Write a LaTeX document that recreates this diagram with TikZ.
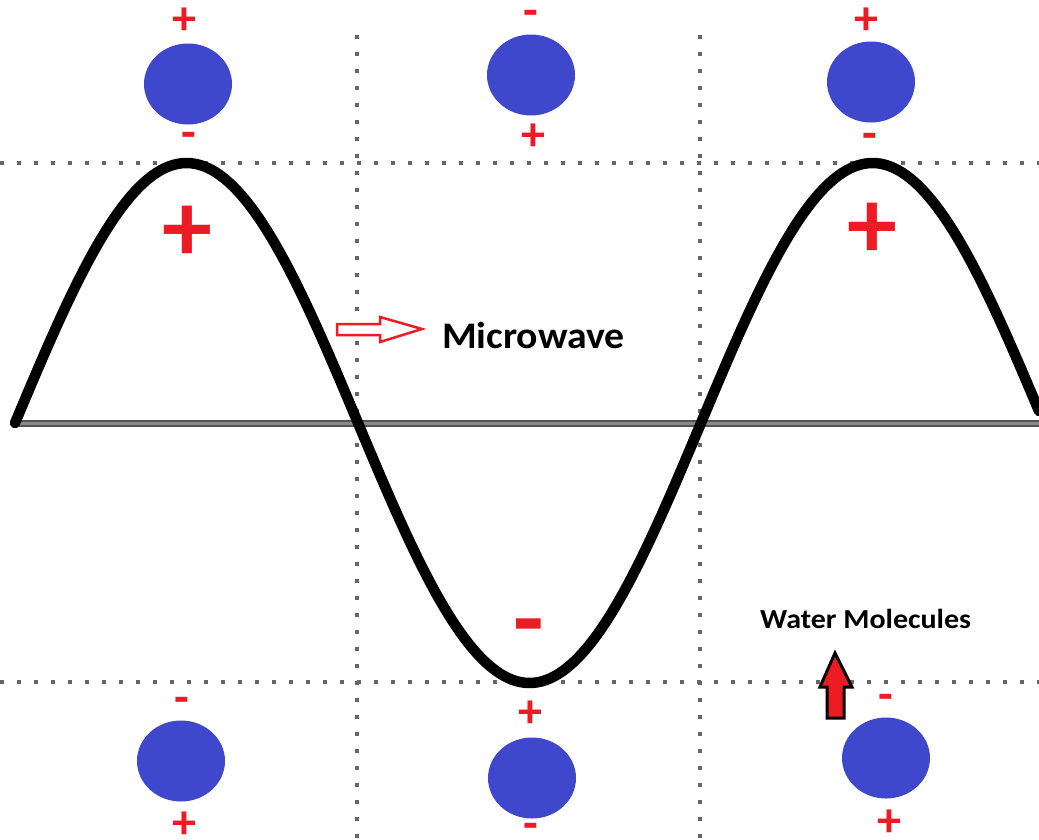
\documentclass[tikz,border=0pt]{standalone}
\usepackage{fontspec}
\setmainfont{Carlito}
\newfontfamily\mwfont[FakeStretch=1.06]{Carlito}
\newfontfamily\wmfont[FakeStretch=1.09]{Carlito}
\usetikzlibrary{shapes.geometric}
\definecolor{molblue}{HTML}{3F48CC}
\definecolor{sigred}{HTML}{ED1C24}
\definecolor{dotgray}{HTML}{666666}
\definecolor{axisdark}{HTML}{555555}
\definecolor{axislight}{HTML}{8A8A8A}
\begin{document}
\begin{tikzpicture}[x=1pt,y=-1pt,
  mol/.style={ellipse, fill=molblue, minimum width=88, minimum height=81, inner sep=0},
  sgn/.style={text=sigred, font=\bfseries\fontsize{48}{48}\selectfont, inner sep=0},
  bigsgn/.style={text=sigred, font=\bfseries\fontsize{100}{100}\selectfont, inner sep=0},
  gridline/.style={dotgray, line width=4, dash pattern=on 4pt off 13pt},
  wave/.style={line width=10.5, line cap=round, line join=round, black},
  label/.style={inner sep=0, anchor=base west, text=black}]
\useasboundingbox (0,0) rectangle (1039,839);
\fill[white] (0,0) rectangle (1039,839);
% dotted grid
\draw[gridline] (0,163) -- (1039,163);
\draw[gridline] (0,682) -- (1039,682);
\draw[gridline] (357,35) -- (357,839);
\draw[gridline] (700,35) -- (700,839);
% axis
\draw[axisdark, line width=7] (16,423) -- (1039,423);
\draw[axislight, line width=3] (16,423) -- (1039,423);
% wave
\draw[wave] plot[domain=15:1039, samples=240] (\x, {423-260*sin((\x-15)/686*360)});
% molecules
\node[mol] (m1) at (188,84) {};
\node[mol] (m2) at (531,75) {};
\node[mol] (m3) at (871,82) {};
\node[mol] (m4) at (181,761) {};
\node[mol] (m5) at (532,778) {};
\node[mol] (m6) at (886,758) {};
% signs
\node[sgn] (s1a) at (184,21) {+};
\node[sgn] (s1b) at (189,140) {-};
\node[sgn] (s2a) at (531,18) {-};
\node[sgn] (s2b) at (533,137) {+};
\node[sgn] (s3a) at (866,21) {+};
\node[sgn] (s3b) at (870,141) {-};
\node[sgn] (s4a) at (182,705) {-};
\node[sgn] (s4b) at (184,825) {+};
\node[sgn] (s5a) at (530,714) {+};
\node[sgn] (s5b) at (531,831) {-};
\node[sgn] (s6a) at (886,702) {-};
\node[sgn] (s6b) at (889,823) {+};
\node[bigsgn] (b1) at (187,234) {+};
\node[bigsgn] (b2) at (872,231) {+};
\node[bigsgn] (b3) at (529,636) {-};
% labels
\node[label, font=\mwfont\bfseries\fontsize{37.5}{38}\selectfont] (mw) at (442,348) {Microwave};
\node[label, font=\wmfont\bfseries\fontsize{27.5}{28}\selectfont] (wm) at (760,628) {Water Molecules};
% arrows
\draw[sigred, line width=2.5, fill=white, line join=miter]
  (337,324) -- (380,324) -- (380,317) -- (422,329) -- (380,342) -- (380,335) -- (337,335) -- cycle;
\draw[black, line width=3, fill=sigred, line join=miter]
  (827,718) -- (827,687) -- (820,687) -- (835,653) -- (852,687) -- (844,687) -- (844,718) -- cycle;
\end{tikzpicture}
\end{document}
